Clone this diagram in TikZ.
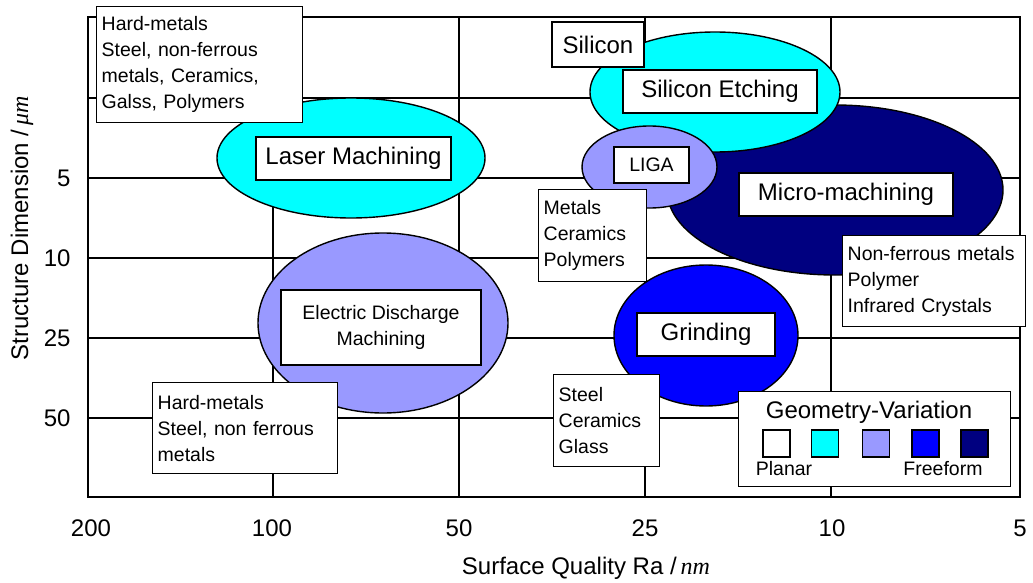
\documentclass[tikz,border=0pt]{standalone}
\usepackage{fontspec}
\setmainfont{Liberation Sans}
\newfontfamily\timesit{Liberation Serif}
\usepackage{xcolor}
\usepackage{tikz}
\usetikzlibrary{shapes.geometric}

\definecolor{etchcyan}{HTML}{00FFFF}
\definecolor{ligablue}{HTML}{9999FF}
\definecolor{grindblue}{HTML}{0000FF}
\definecolor{mmnavy}{HTML}{000080}

\newcommand{\bigf}{\fontsize{24}{28}\selectfont}
\newcommand{\notef}{\fontsize{19.5}{26}\selectfont}

\begin{document}
\begin{tikzpicture}[
    x=1pt, y=-1pt,
    gridline/.style={line width=1.4pt, draw=black},
    frame/.style={line width=1.8pt, draw=black},
    region/.style={ellipse, draw=black, line width=1.4pt, inner sep=0pt},
    process/.style={draw=black, fill=white, line width=1.4pt, font=\bigf, inner sep=0pt},
    material/.style={draw=black, fill=white, line width=1.4pt, font=\notef, align=left, anchor=north west, inner xsep=5pt, inner ysep=0pt},
    ticklabel/.style={font=\bigf},
    swatch/.style={draw=black, line width=1.4pt, minimum size=27pt, inner sep=0pt}
]
    \useasboundingbox (0,0) rectangle (1033,583);

    % ── Grille (sous tout le reste) ──
    \draw[gridline] (273,17) -- (273,497);
    \draw[gridline] (459,17) -- (459,497);
    \draw[gridline] (645,17) -- (645,497);
    \draw[gridline] (831,17) -- (831,497);
    \draw[gridline] (88,98) -- (1020,98);
    \draw[gridline] (88,178) -- (1020,178);
    \draw[gridline] (88,258) -- (1020,258);
    \draw[gridline] (88,338) -- (1020,338);
    \draw[gridline] (88,418) -- (1020,418);
    \draw[frame] (88,17) rectangle (1020,497);

    % ── Graduations ──
    \node[ticklabel] (x200) at (91,528)   {200};
    \node[ticklabel] (x100) at (272,528)  {100};
    \node[ticklabel] (x50)  at (459,528)  {50};
    \node[ticklabel] (x25)  at (645,528)  {25};
    \node[ticklabel] (x10)  at (832,528)  {10};
    \node[ticklabel] (x5)   at (1020,528) {5};
    \node[ticklabel, anchor=east] (y5)  at (74,178) {5};
    \node[ticklabel, anchor=east] (y10) at (74,258) {10};
    \node[ticklabel, anchor=east] (y25) at (74,338) {25};
    \node[ticklabel, anchor=east] (y50) at (74,418) {50};

    \node[ticklabel] (xtitle) at (586,568) {Surface Quality Ra /\,{\timesit\itshape nm}};
    \node[ticklabel, rotate=90] (ytitle) at (22,228) {Structure Dimension /\,{\timesit\itshape μm}};

    % ── Domaines des proc\'ed\'es (ellipses) ──
    \node[region, fill=mmnavy, minimum width=336pt, minimum height=170pt] (mm) at (835,190) {};
    \node[region, fill=etchcyan, minimum width=250pt, minimum height=120pt] (etch) at (715,92) {};
    \node[region, fill=ligablue, minimum width=135pt, minimum height=82pt] (liga) at (649.5,167) {};
    \node[region, fill=etchcyan, minimum width=268pt, minimum height=120pt] (laser) at (351,158) {};
    \node[region, fill=ligablue, minimum width=250pt, minimum height=180pt] (edm) at (383,323) {};
    \node[region, fill=grindblue, minimum width=184pt, minimum height=141pt] (grind) at (706,335.5) {};

    % ── Noms des proc\'ed\'es ──
    \node[process, minimum width=195pt, minimum height=43pt] (laserlbl) at (353.5,158.5) {Laser Machining};
    \node[process, minimum width=194pt, minimum height=43pt] (etchlbl) at (720,91.5) {Silicon Etching};
    \node[process, minimum width=92pt, minimum height=45pt] (silicon) at (598,44.5) {Silicon};
    \node[process, font=\notef, minimum width=75pt, minimum height=36pt] (ligalbl) at (651.5,165) {LIGA};
    \node[process, minimum width=214pt, minimum height=43pt] (mmlbl) at (846,194.5) {Micro-machining};
    \node[process, font=\notef, align=center, minimum width=200pt, minimum height=75pt] (edmlbl) at (381,327.5) {Electric Discharge\\Machining};
    \node[process, minimum width=138pt, minimum height=43pt] (grindlbl) at (706,334.5) {Grinding};

    % ── Mat\'eriaux ──
    \node[material, text width=196pt, minimum height=116pt] (hardtop) at (96,6)
        {Hard-metals\\Steel, non-ferrous\\metals, Ceramics,\\Galss, Polymers};
    \node[material, text width=98pt, minimum height=92pt] (metals) at (538,189)
        {Metals\\Ceramics\\Polymers};
    \node[material, text width=173pt, minimum height=91pt] (nonferrous) at (842,235)
        {Non-ferrous metals\\Polymer\\Infrared Crystals};
    \node[material, text width=175pt, minimum height=91pt] (hardbottom) at (152,382)
        {Hard-metals\\Steel, non ferrous\\metals};
    \node[material, text width=96pt, minimum height=92pt] (steel) at (553,374)
        {Steel\\Ceramics\\Glass};

    % ── L\'egende ──
    \node[material, minimum width=272pt, minimum height=95pt] (legend) at (738,391) {};
    \node[font=\bigf] (legtitle) at (869,412) {Geometry-Variation};
    \node[swatch, fill=white] (sw1) at (776.5,443.5) {};
    \node[swatch, fill=etchcyan] (sw2) at (825,443.5) {};
    \node[swatch, fill=ligablue] (sw3) at (876,443.5) {};
    \node[swatch, fill=grindblue] (sw4) at (925.5,443.5) {};
    \node[swatch, fill=mmnavy] (sw5) at (974.5,443.5) {};
    \node[font=\notef] (planar) at (784,469) {Planar};
    \node[font=\notef] (freeform) at (943,469) {Freeform};

\end{tikzpicture}
\end{document}
